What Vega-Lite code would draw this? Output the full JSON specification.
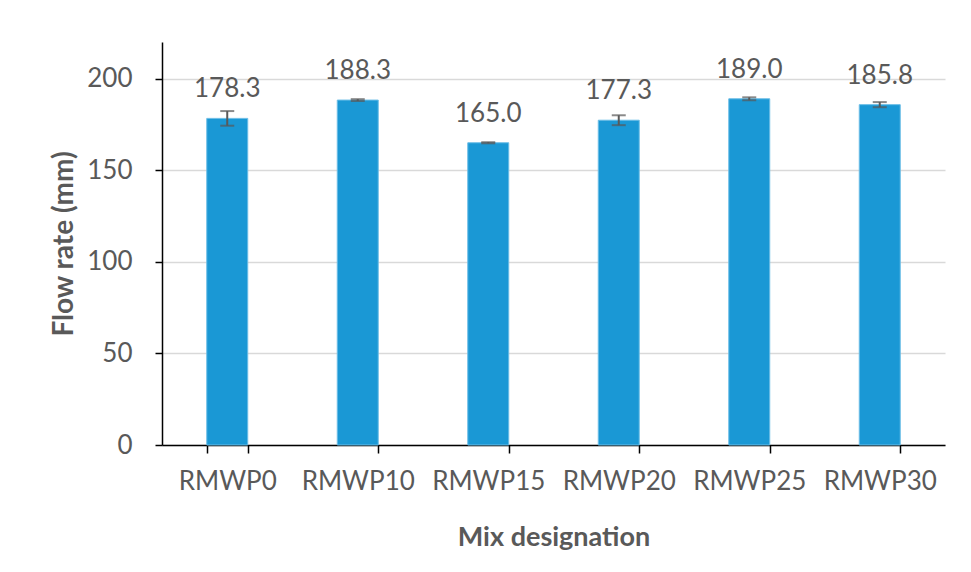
{
  "$schema": "https://vega.github.io/schema/vega-lite/v6.json",
  "autosize": {"type": "none"},
  "width": 783,
  "height": 403,
  "padding": {"left": 162, "top": 42, "right": 26, "bottom": 127},
  "background": "white",
  "config": {
    "view": {"stroke": null},
    "font": "Lato",
    "axis": {"labelFont": "Lato", "titleFont": "Lato"}
  },
  "data": {
    "values": [
      {"mix": "RMWP0", "flow": 178.3, "err": 4.0},
      {"mix": "RMWP10", "flow": 188.3, "err": 0.5},
      {"mix": "RMWP15", "flow": 165.0, "err": 0.3},
      {"mix": "RMWP20", "flow": 177.3, "err": 2.7},
      {"mix": "RMWP25", "flow": 189.0, "err": 0.8},
      {"mix": "RMWP30", "flow": 185.8, "err": 1.4}
    ]
  },
  "encoding": {
    "x": {
      "field": "mix",
      "type": "nominal",
      "sort": null,
      "scale": {"paddingInner": 0.686, "paddingOuter": 0.343},
      "axis": {
        "title": "Mix designation",
        "labelAngle": 0,
        "labelFontSize": 26,
        "labelColor": "#595959",
        "labelPadding": 15,
        "tickBand": "extent",
        "tickSize": 8,
        "tickColor": "#000000",
        "tickWidth": 1.5,
        "domainColor": "#000000",
        "domainWidth": 1.5,
        "grid": false,
        "titleFontSize": 27,
        "titleFontWeight": "bold",
        "titleColor": "#595959",
        "titlePadding": 30
      }
    }
  },
  "layer": [
    {
      "mark": {"type": "bar", "color": "#1A98D5", "stroke": "#6BBDE6", "strokeWidth": 1},
      "encoding": {
        "y": {
          "field": "flow",
          "type": "quantitative",
          "title": "Flow rate (mm)",
          "scale": {"domain": [0, 220], "nice": false},
          "axis": {
            "values": [0, 50, 100, 150, 200],
            "labelFontSize": 26,
            "labelColor": "#595959",
            "labelPadding": 23,
            "tickSize": 7,
            "tickColor": "#000000",
            "tickWidth": 1.5,
            "domainColor": "#000000",
            "domainWidth": 1.5,
            "grid": true,
            "gridColor": "#D9D9D9",
            "gridWidth": 1.5,
            "titleFontSize": 28,
            "titleFontWeight": "bold",
            "titleColor": "#595959",
            "titlePadding": 8
          }
        }
      }
    },
    {
      "mark": {"type": "errorbar", "ticks": {"size": 14, "color": "#595959", "thickness": 2}, "rule": {"color": "#595959", "strokeWidth": 2}},
      "encoding": {
        "y": {"field": "flow", "type": "quantitative", "title": "Flow rate (mm)"},
        "yError": {"field": "err"}
      }
    },
    {
      "mark": {"type": "text", "baseline": "alphabetic", "dy": -21, "fontSize": 26, "color": "#595959"},
      "encoding": {
        "y": {"field": "flow", "type": "quantitative", "title": "Flow rate (mm)"},
        "text": {"field": "flow", "type": "quantitative", "format": ".1f"}
      }
    }
  ]
}
